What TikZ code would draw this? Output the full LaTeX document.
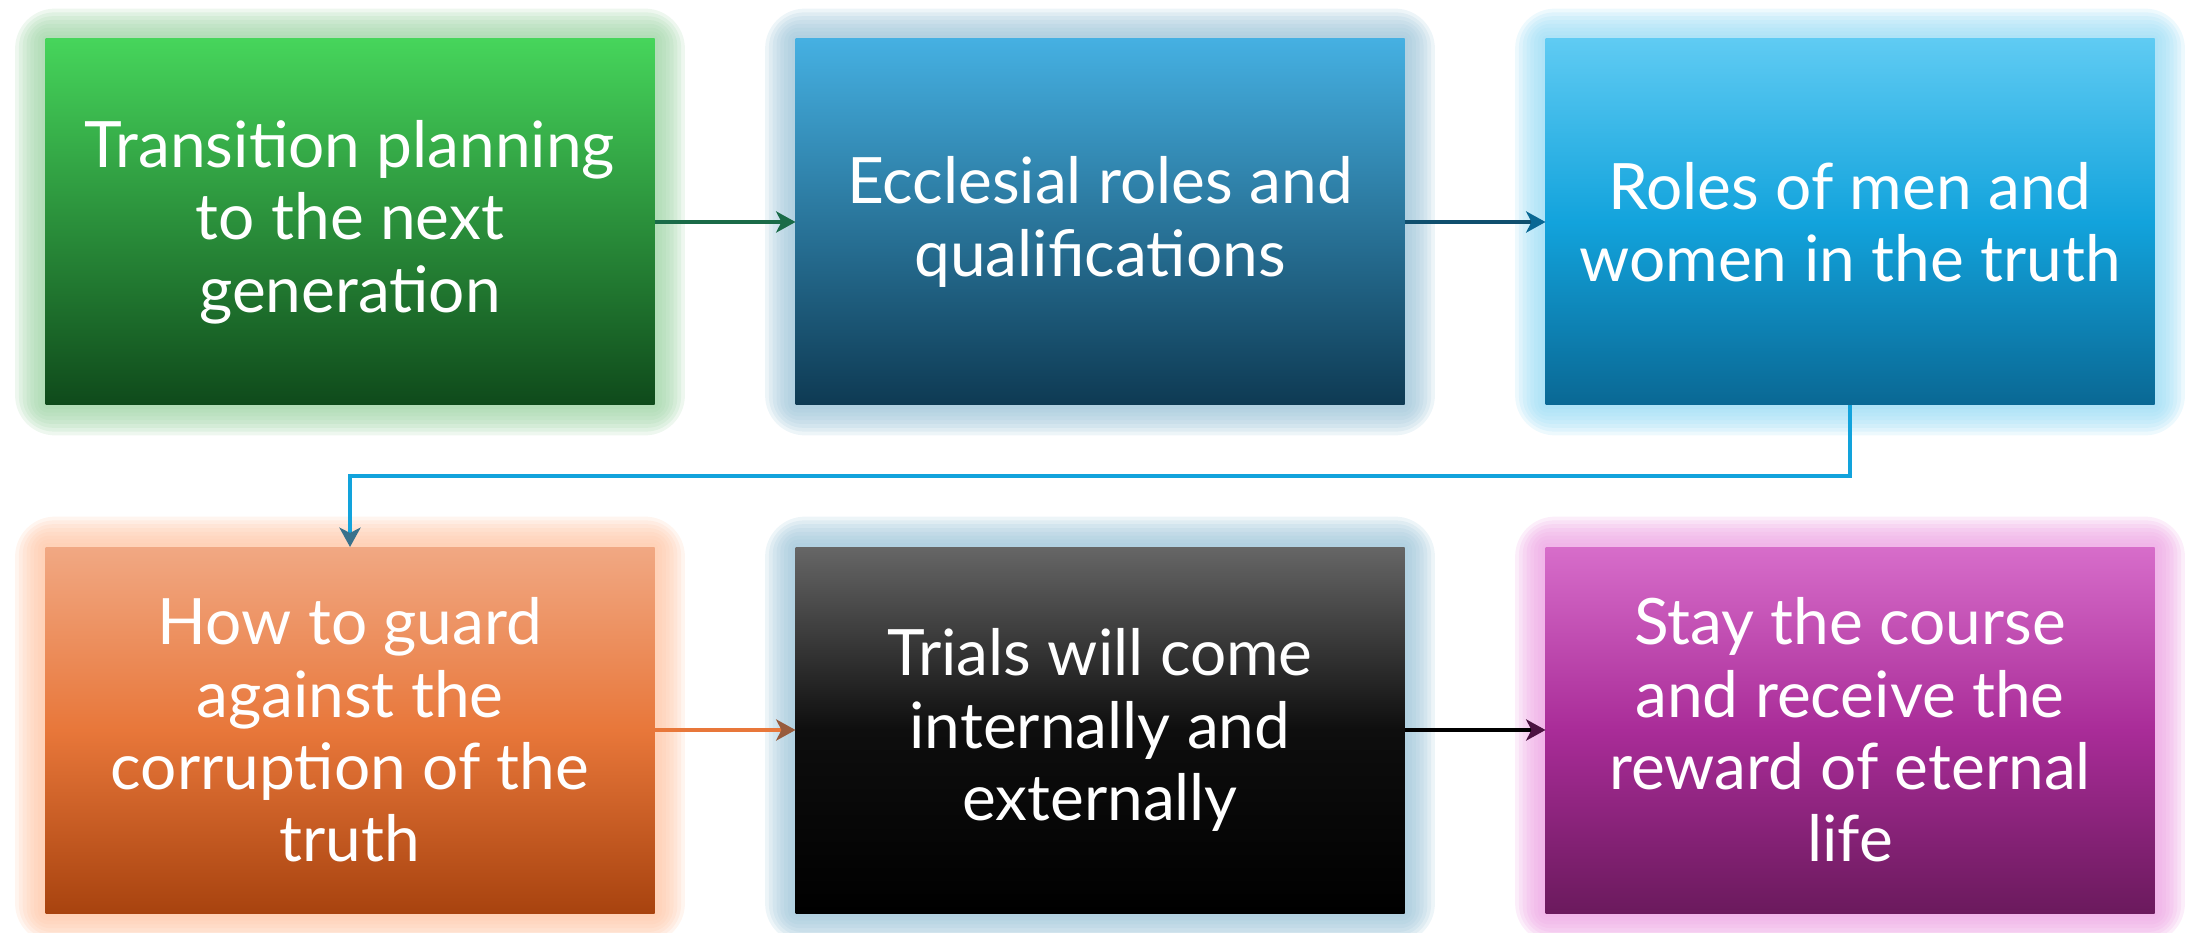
\documentclass[tikz,border=0pt]{standalone}
\usepackage{fontspec}
\setmainfont{Lato}
\usetikzlibrary{arrows.meta,positioning,backgrounds}

\definecolor{greenTop}{HTML}{46D55B}
\definecolor{greenBot}{HTML}{0F4A1B}
\definecolor{blueTop}{HTML}{45B0E2}
\definecolor{blueBot}{HTML}{0E3A53}
\definecolor{cyanTop}{HTML}{5FCBF3}
\definecolor{cyanMid}{HTML}{12A3DC}
\definecolor{cyanBot}{HTML}{0A6894}
\definecolor{orangeTop}{HTML}{F1A883}
\definecolor{orangeMid}{HTML}{E8773A}
\definecolor{orangeBot}{HTML}{A8430F}
\definecolor{greyTop}{HTML}{666666}
\definecolor{greyMid}{HTML}{0E0E0E}
\definecolor{purpleTop}{HTML}{D76DCA}
\definecolor{purpleMid}{HTML}{A92C98}
\definecolor{purpleBot}{HTML}{6B1A5D}
\definecolor{glowGreen}{HTML}{9FD4A6}
\definecolor{glowBlue}{HTML}{9EC5D9}
\definecolor{glowCyan}{HTML}{9BDCF5}
\definecolor{glowOrange}{HTML}{FFC6A6}
\definecolor{glowPink}{HTML}{EDA3E3}
\definecolor{linkGreen}{HTML}{1A6B48}

\begin{document}
\begin{tikzpicture}
		\tikzstyle{topic}=[rectangle,minimum width=6.09cm,minimum height=3.66cm,inner sep=0pt,outer sep=0pt,
			align=center,text=white,font=\fontsize{18.2}{20.6}\selectfont]
		\tikzstyle{link}=[line width=1.4pt]
		\tikzstyle{tip}=[arrows={-Stealth[length=5.5pt,width=6pt,inset=1.5pt]}]
		
		\useasboundingbox (0,0) rectangle (21.89,9.32);
		
		\node[topic, top color=greenTop, bottom color=greenBot] (plan) at (3.50,7.10) {Transition planning\\to the next\\generation};
		\node[topic, top color=blueTop, bottom color=blueBot, right=1.41cm of plan] (roles) {Ecclesial roles and\\qualifications};
		\node[topic, top color=cyanTop, bottom color=cyanBot, middle color=cyanMid, right=1.41cm of roles] (menwomen) {Roles of men and\\women in the truth};
		
		\node[topic, top color=orangeTop, bottom color=orangeBot, middle color=orangeMid, below=1.42cm of plan] (guard) {How to guard\\against the\\corruption of the\\truth};
		\node[topic, top color=greyTop, bottom color=black, middle color=greyMid, right=1.41cm of guard] (trials) {Trials will come\\internally and\\externally};
		\node[topic, top color=purpleTop, bottom color=purpleBot, middle color=purpleMid, right=1.41cm of trials] (course) {Stay the course\\and receive the\\reward of eternal\\life};
		
		% soft glow round each box
		\begin{scope}[on background layer]
			\foreach \n/\c in {plan/glowGreen,roles/glowBlue,menwomen/glowCyan,guard/glowOrange,trials/glowBlue,course/glowPink}
				\foreach \g in {1,...,8}
					\fill[\c, opacity=0.18, rounded corners=\g*0.05cm]
						([shift={(-\g*0.038,-\g*0.038)}]\n.south west) rectangle ([shift={(\g*0.038,\g*0.038)}]\n.north east);
		\end{scope}
		
		\draw[link, draw=linkGreen, tip] (plan) -- (roles);
		\draw[link, draw=blueBot!80!cyanMid, arrows={-Stealth[length=5.5pt,width=6pt,inset=1.5pt,color=cyanBot]}] (roles) -- (menwomen);
		\draw[link, draw=cyanMid, arrows={-Stealth[length=5.5pt,width=6pt,inset=1.5pt,color=cyanBot!60!gray]}] (menwomen.south) -- ++(0,-0.71) -| (guard.north);
		\draw[link, draw=orangeMid, arrows={-Stealth[length=5.5pt,width=6pt,inset=1.5pt,color=orangeBot!60!gray]}] (guard) -- (trials);
		\draw[link, draw=black, arrows={-Stealth[length=5.5pt,width=6pt,inset=1.5pt,color=purpleBot!70!black]}] (trials) -- (course);
\end{tikzpicture}
\end{document}
